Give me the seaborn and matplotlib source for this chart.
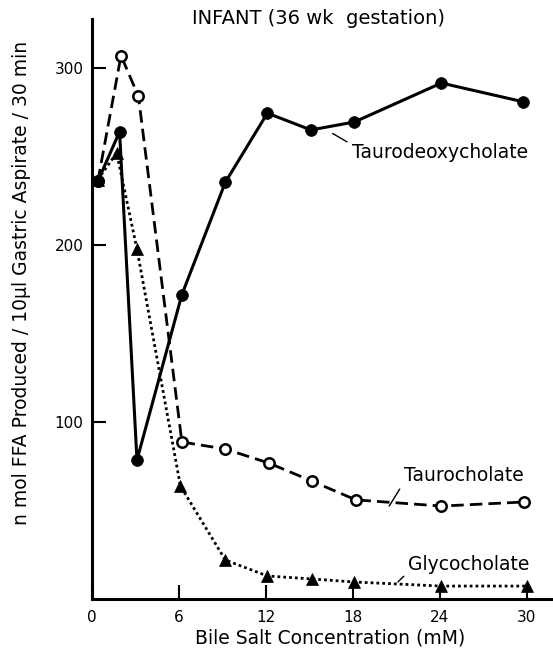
import numpy as np
import pandas as pd
import seaborn as sns
import matplotlib
matplotlib.use("Agg")
import matplotlib.pyplot as plt

# data
tdc_x = [0.4, 1.9, 3.1, 6.2, 9.2, 12.1, 15.1, 18.1, 24.1, 29.7]
tdc_y = [236, 264, 78.5, 172, 235.5, 274.5, 265, 269.5, 291.5, 281]

tc_x = [0.4, 2.0, 3.2, 6.2, 9.2, 12.2, 15.2, 18.2, 24.1, 29.8]
tc_y = [236, 307, 284, 88.7, 84.7, 76.8, 66.5, 56, 52.5, 54.8]

gc_x = [0.4, 1.7, 3.1, 6.1, 9.2, 12.1, 15.2, 18.1, 24.1, 30.0]
gc_y = [237, 252, 197.7, 63.8, 22, 13, 11.3, 9.6, 7.3, 7.3]

x_ticks = [0, 6, 12, 18, 24, 30]
y_ticks = [100, 200, 300]

sns.set_style("ticks")
plt.rcParams["font.family"] = ["DejaVu Sans"]
plt.rcParams["text.color"] = "black"
plt.rcParams["axes.labelcolor"] = "black"
plt.rcParams["xtick.color"] = "black"
plt.rcParams["ytick.color"] = "black"

fig = plt.figure(figsize=(5.53, 6.52), dpi=100)
ax = fig.add_axes([0.1664, 0.0813, 0.8336, 0.8896])

tdc = pd.DataFrame({"x": tdc_x, "y": tdc_y})
tc = pd.DataFrame({"x": tc_x, "y": tc_y})
gc = pd.DataFrame({"x": gc_x, "y": gc_y})

# glycocholate - dotted, triangles
sns.lineplot(data=gc, x="x", y="y", ax=ax, color="black", lw=2.0,
             linestyle=(0, (1, 1.1)), marker="^", markersize=8.5,
             markerfacecolor="black", markeredgecolor="black", markeredgewidth=0.5)
# taurocholate - dashed, open circles
sns.lineplot(data=tc, x="x", y="y", ax=ax, color="black", lw=2.0,
             linestyle=(0, (4.5, 2.2)), marker="o", markersize=7.5,
             markerfacecolor="white", markeredgecolor="black", markeredgewidth=1.8)
# taurodeoxycholate - solid, filled circles
sns.lineplot(data=tdc, x="x", y="y", ax=ax, color="black", lw=2.2,
             marker="o", markersize=8.5,
             markerfacecolor="black", markeredgecolor="black", markeredgewidth=0.5)

ax.set_xlim(0, 31.8)
ax.set_ylim(0, 327.7)
ax.set_xticks(x_ticks)
ax.set_yticks(y_ticks)
ax.tick_params(axis="both", direction="in", length=10, width=1.5, labelsize=11, color="black")
ax.tick_params(axis="x", pad=8)
ax.tick_params(axis="y", pad=6)

for s in ["top", "right"]:
    ax.spines[s].set_visible(False)
for s in ["left", "bottom"]:
    ax.spines[s].set_linewidth(2.2)
    ax.spines[s].set_color("black")

ax.set_xlabel("Bile Salt Concentration (mM)", fontsize=13.5)
ax.set_ylabel("n mol FFA Produced / 10µl Gastric Aspirate / 30 min", fontsize=13.5)
ax.xaxis.set_label_coords(0.516, -0.051)
ax.yaxis.set_label_coords(-0.133, 0.545)

# series labels with leader lines
lead = dict(arrowstyle="-", color="black", lw=1.0, shrinkA=1, shrinkB=0)
ax.annotate("Taurodeoxycholate", xy=(16.6, 263), xytext=(17.9, 252.5),
            ha="left", va="center", fontsize=13.5,
            arrowprops=dict(lead, relpos=(0, 0.9)))
ax.annotate("Taurocholate", xy=(20.5, 52.5), xytext=(21.5, 70),
            ha="left", va="center", fontsize=13.5,
            arrowprops=dict(lead, relpos=(0, 0.1)))
ax.annotate("Glycocholate", xy=(21.1, 9.6), xytext=(21.8, 19.5),
            ha="left", va="center", fontsize=13.5,
            arrowprops=dict(lead, relpos=(0, 0.1)))

fig.text(318 / 553, 1 - 18 / 652, "INFANT (36 wk  gestation)",
         ha="center", va="center", fontsize=14)

fig.savefig("out.png", dpi=100)
